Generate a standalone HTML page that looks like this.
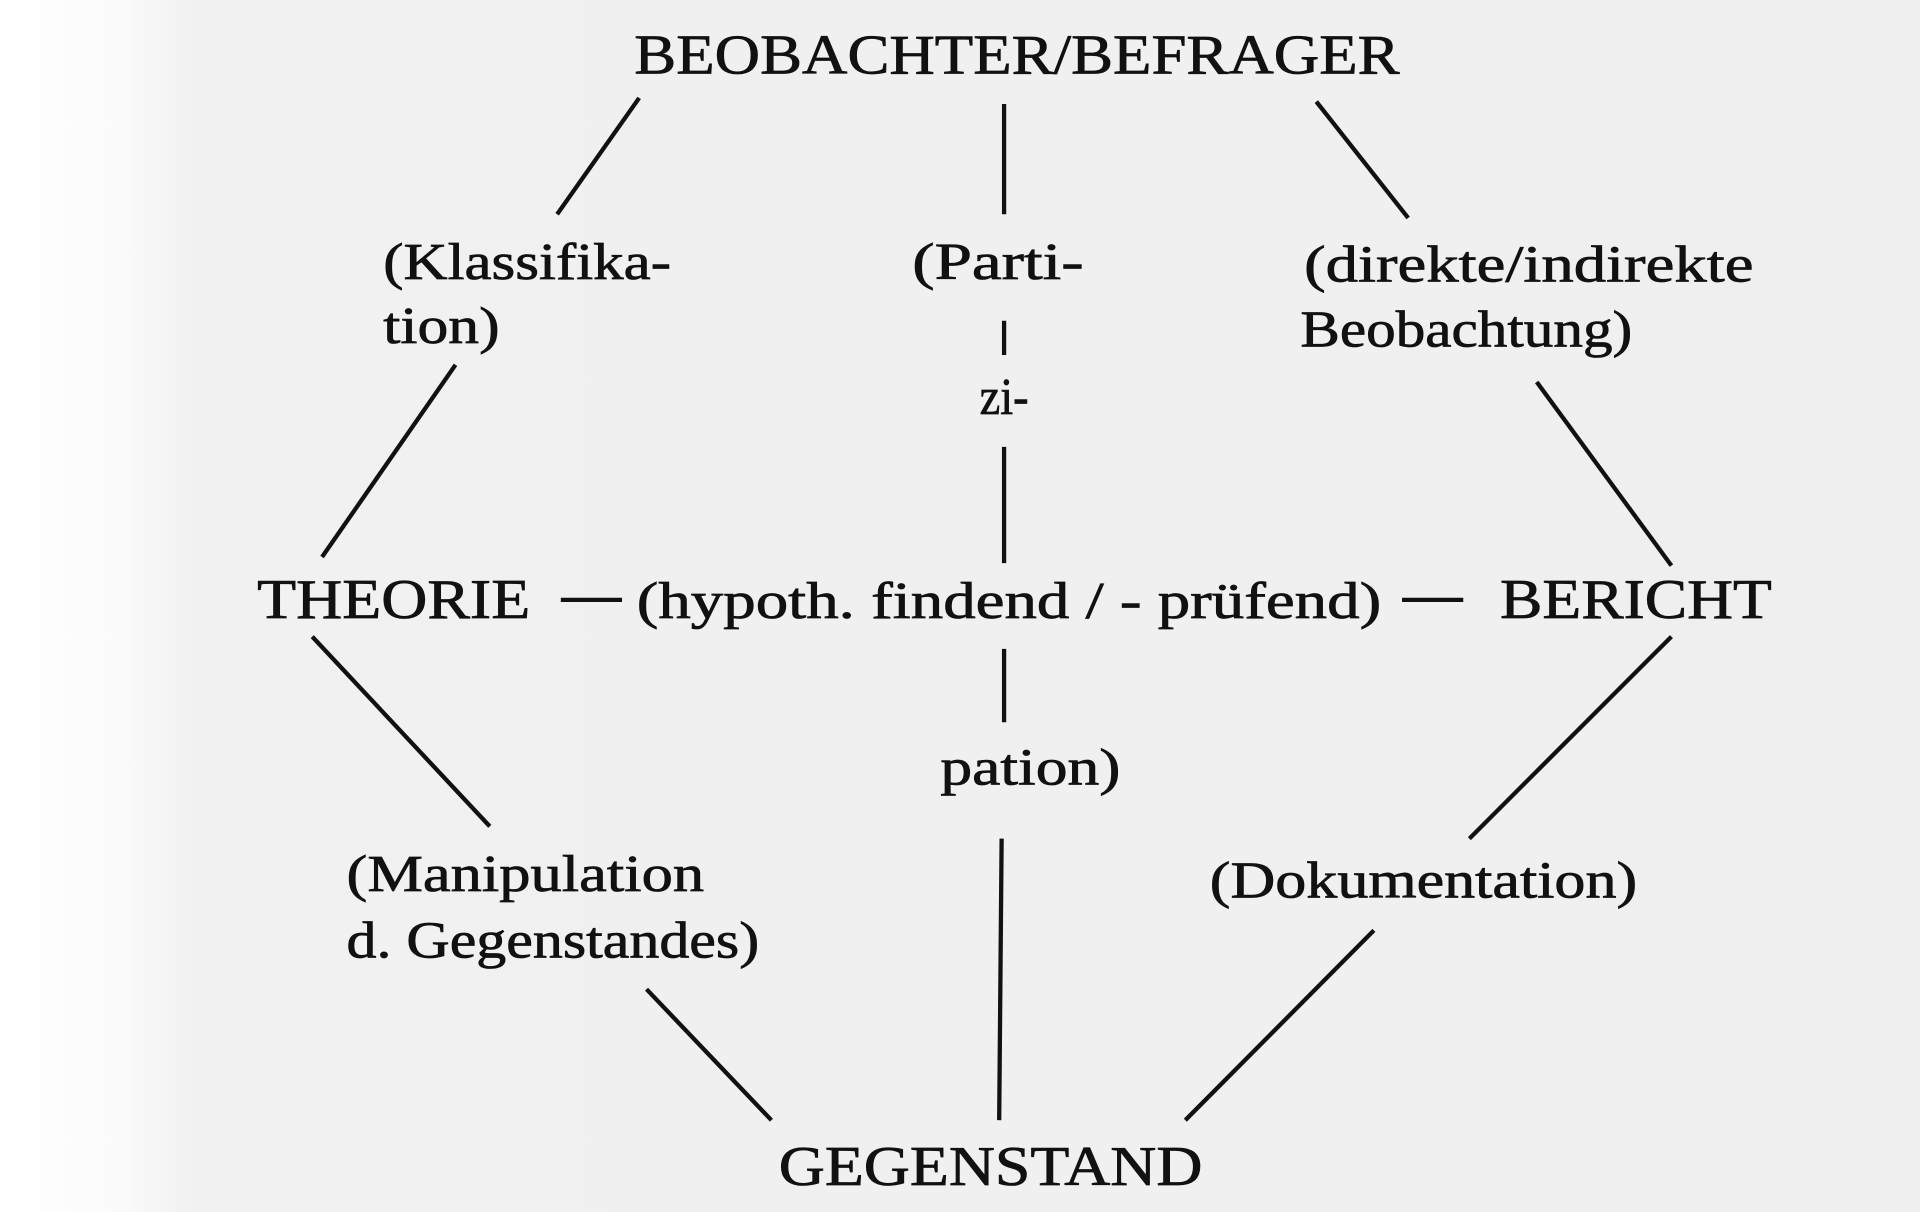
<!DOCTYPE html>
<html><head><meta charset="utf-8"><style>
html,body{margin:0;padding:0;width:1920px;height:1212px;overflow:hidden;background:#fff}
svg{display:block}
text{font-family:"Liberation Serif",serif;fill:#111;stroke:#111;stroke-width:0.6}
</style></head><body>
<svg width="1920" height="1212" viewBox="0 0 1568 990" preserveAspectRatio="none">
<defs><linearGradient id="g" x1="0" x2="1" y1="0" y2="0">
<stop offset="0" stop-color="#ffffff"/><stop offset="0.06" stop-color="#fbfbfb"/><stop offset="0.1" stop-color="#f1f1f1"/><stop offset="1" stop-color="#efefef"/></linearGradient></defs>
<rect width="1568" height="990" fill="url(#g)"/>
<g stroke="#111" stroke-width="3.5" stroke-linecap="butt">
<line x1="522" y1="80" x2="455" y2="175"/>
<line x1="820" y1="85" x2="820" y2="175"/>
<line x1="1075" y1="83" x2="1150" y2="178"/>
<line x1="372" y1="298" x2="263" y2="455"/>
<line x1="820" y1="262" x2="820" y2="290"/>
<line x1="820" y1="365" x2="820" y2="460"/>
<line x1="820" y1="530" x2="820" y2="590"/>
<line x1="818" y1="685" x2="816" y2="915"/>
<line x1="1255" y1="312" x2="1365" y2="462"/>
<line x1="255" y1="520" x2="400" y2="675"/>
<line x1="1365" y1="520" x2="1200" y2="685"/>
<line x1="528" y1="808" x2="630" y2="915"/>
<line x1="1122" y1="760" x2="968" y2="915"/>
<line x1="458" y1="490" x2="508" y2="490"/>
<line x1="1145" y1="490" x2="1195" y2="490"/>
</g>
<g font-size="46">
<text x="518" y="60" textLength="625" lengthAdjust="spacingAndGlyphs">BEOBACHTER/BEFRAGER</text>
<text x="210" y="505" textLength="223" lengthAdjust="spacingAndGlyphs">THEORIE</text>
<text x="1225" y="505" textLength="222" lengthAdjust="spacingAndGlyphs">BERICHT</text>
<text x="636" y="968" textLength="346" lengthAdjust="spacingAndGlyphs">GEGENSTAND</text>
</g>
<g font-size="42">
<text x="313" y="228" textLength="235" lengthAdjust="spacingAndGlyphs">(Klassifika-</text>
<text x="313" y="280" textLength="95" lengthAdjust="spacingAndGlyphs">tion)</text>
<text x="745" y="228" textLength="140" lengthAdjust="spacingAndGlyphs">(Parti-</text>
<text x="800" y="338" textLength="40" lengthAdjust="spacingAndGlyphs">zi-</text>
<text x="768" y="641" textLength="147" lengthAdjust="spacingAndGlyphs">pation)</text>
<text x="1065" y="230" textLength="367" lengthAdjust="spacingAndGlyphs">(direkte/indirekte</text>
<text x="1062" y="283" textLength="271" lengthAdjust="spacingAndGlyphs">Beobachtung)</text>
<text x="520" y="505" textLength="608" lengthAdjust="spacingAndGlyphs">(hypoth. findend / - prüfend)</text>
<text x="283" y="728" textLength="292" lengthAdjust="spacingAndGlyphs">(Manipulation</text>
<text x="283" y="782" textLength="337" lengthAdjust="spacingAndGlyphs">d. Gegenstandes)</text>
<text x="988" y="733" textLength="349" lengthAdjust="spacingAndGlyphs">(Dokumentation)</text>
</g>
</svg>
</body></html>
